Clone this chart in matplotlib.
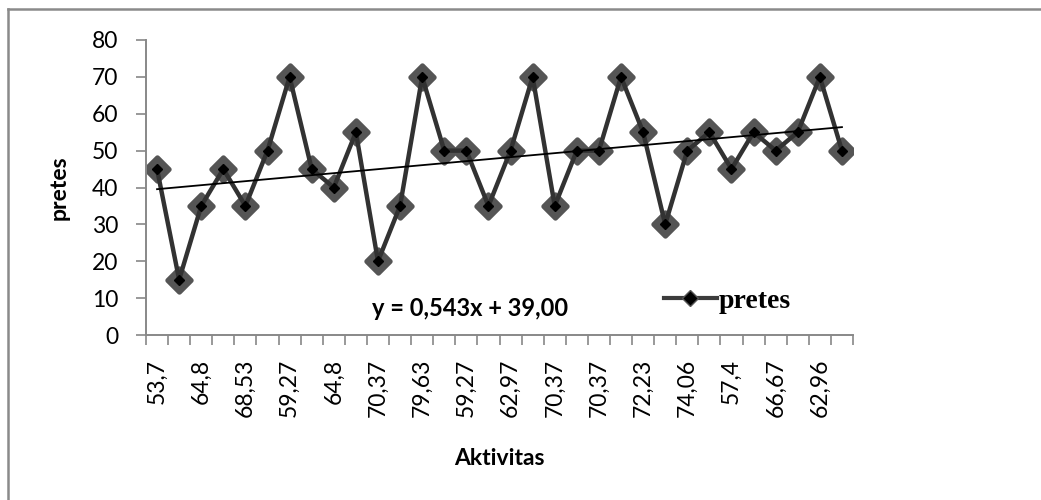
import matplotlib
matplotlib.use("Agg")
import matplotlib.pyplot as plt
from matplotlib.lines import Line2D
from matplotlib.markers import MarkerStyle
import numpy as np

plt.rcParams['font.family'] = ['Lato', 'DejaVu Sans']

# data
shown_labels = ["53,7", "64,8", "68,53", "59,27", "64,8", "70,37", "79,63", "59,27",
                "62,97", "70,37", "70,37", "72,23", "74,06", "57,4", "66,67", "62,96"]
pretes = [45, 15, 35, 45, 35, 50, 70, 45, 40, 55, 20, 35, 70, 50, 50, 35,
          50, 70, 35, 50, 50, 70, 55, 30, 50, 55, 45, 55, 50, 55, 70, 50]
trend_slope = 0.543
trend_intercept = 39.00
y_ticks = [0, 10, 20, 30, 40, 50, 60, 70, 80]

fig = plt.figure(figsize=(10.41, 5.0), dpi=100)
ax = fig.add_axes([146/1041, 1-335/500, (853-146)/1041, (335-40)/500])

n = len(pretes)
x = np.arange(1, n + 1)

# halo: filled diamond plus rounded outline, same colour
ax.scatter(x, pretes, marker='D', s=13**2, linewidths=0, c='#555555', zorder=2)
halo = MarkerStyle('D', joinstyle='round')
ax.scatter(x, pretes, marker=halo, s=12**2, linewidths=3.5, facecolors='#555555',
           edgecolors='#555555', zorder=2)
ax.plot(x, pretes, color='#323232', lw=3.2, zorder=3, solid_joinstyle='round')
ax.plot(x, pretes, ls='none', marker='D', ms=5.5, color='black', zorder=4)

tx = np.array([1, n])
ax.plot(tx, trend_slope * tx + trend_intercept, color='black', lw=1.3, zorder=5)

ax.set_xlim(0.5, n + 0.5)
ax.set_ylim(0, 80)
ax.set_yticks(y_ticks)
ax.set_xticks(np.arange(0.5, n + 1, 1), minor=False)
ax.set_xticklabels([])
ax.set_xticks(np.arange(1, n + 1, 2), minor=True)
ax.set_xticklabels(shown_labels, minor=True, rotation=90, fontsize=16.5)
ax.tick_params(axis='x', which='major', length=7, width=1.2, color='#888888', direction='out')
ax.tick_params(axis='x', which='minor', length=0, pad=17)
ax.tick_params(axis='y', length=7, width=1.2, color='#888888', labelsize=16.5, pad=13)

for s in ['top', 'right']:
    ax.spines[s].set_visible(False)
for s in ['left', 'bottom']:
    ax.spines[s].set_color('#888888')
    ax.spines[s].set_linewidth(1.4)

ax.set_ylabel('pretes', fontsize=16.5, fontweight='bold', labelpad=16)
ax.set_xlabel('Aktivitas', fontsize=16.5, fontweight='bold', labelpad=22)

ax.text(372/1041, 1-308/500, 'y = 0,543x + 39,00', transform=fig.transFigure,
        fontsize=17, fontweight='bold', va='center', ha='left')

handle = Line2D([], [], color='#3c3c3c', lw=3, marker='D', ms=8, mfc='black', mec='#555555')
leg = fig.legend([handle], ['pretes'], loc='center left',
                 bbox_to_anchor=(664/1041, 1-301/500), frameon=False,
                 prop={'family': 'Liberation Serif', 'weight': 'bold', 'size': 20},
                 handlelength=1.9, handletextpad=0.05, borderpad=0, borderaxespad=0)

# outer frame (top and left only visible)
fig.add_artist(Line2D([8/1041, 1], [1-9/500, 1-9/500], transform=fig.transFigure,
                      color='#8a8a8a', lw=1.8))
fig.add_artist(Line2D([8/1041, 8/1041], [0, 1-9/500], transform=fig.transFigure,
                      color='#8a8a8a', lw=1.8))

fig.savefig('out.png', dpi=100)
